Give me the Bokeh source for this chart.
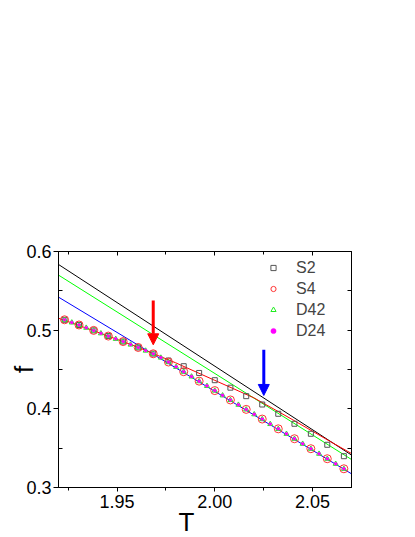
import numpy as np
from bokeh.plotting import figure
from bokeh.models import (Range1d, LinearAxis, FixedTicker, Title, Arrow,
                          NormalHead, Legend, LegendItem, CustomJSTickFormatter)
from bokeh.embed import file_html
from bokeh.resources import INLINE

# ---------------- data ----------------
T_all = [1.9231, 1.9268, 1.9305, 1.9342, 1.9380, 1.9417, 1.9455, 1.9493, 1.9531,
         1.9569, 1.9608, 1.9646, 1.9685, 1.9724, 1.9763, 1.9802, 1.9841, 1.9881,
         1.9920, 1.9960, 2.0000, 2.0040, 2.0080, 2.0121, 2.0161, 2.0202, 2.0243,
         2.0284, 2.0325, 2.0367, 2.0408, 2.0450, 2.0492, 2.0534, 2.0576, 2.0619,
         2.0661]
T_half = [1.9231, 1.9305, 1.9380, 1.9455, 1.9531, 1.9608, 1.9685, 1.9763, 1.9841,
          1.9920, 2.0000, 2.0080, 2.0161, 2.0243, 2.0325, 2.0408, 2.0492, 2.0576,
          2.0661]

S2 = [0.5132, 0.5066, 0.4997, 0.4925, 0.4855, 0.4780, 0.4702, 0.4614, 0.4542,
      0.4456, 0.4364, 0.4269, 0.4161, 0.4055, 0.3937, 0.3810, 0.3683, 0.3543,
      0.3398]
S4 = [0.5132, 0.5066, 0.4997, 0.4925, 0.4855, 0.4780, 0.4700, 0.4595, 0.4472,
      0.4352, 0.4232, 0.4113, 0.3993, 0.3870, 0.3746, 0.3620, 0.3493, 0.3366,
      0.3238]
D42 = [0.5130, 0.5097, 0.5064, 0.5030, 0.4995, 0.4959, 0.4923, 0.4888, 0.4853,
       0.4816, 0.4778, 0.4739, 0.4698, 0.4650, 0.4592, 0.4532, 0.4470, 0.4410,
       0.4350, 0.4290, 0.4230, 0.4170, 0.4111, 0.4051, 0.3991, 0.3930, 0.3868,
       0.3806, 0.3744, 0.3681, 0.3618, 0.3555, 0.3491, 0.3428, 0.3364, 0.3300,
       0.3236]
D24 = [0.5132, 0.5099, 0.5066, 0.5032, 0.4997, 0.4961, 0.4925, 0.4890, 0.4855,
       0.4818, 0.4780, 0.4741, 0.4700, 0.4652, 0.4595, 0.4534, 0.4472, 0.4412,
       0.4352, 0.4292, 0.4232, 0.4172, 0.4113, 0.4053, 0.3993, 0.3932, 0.3870,
       0.3808, 0.3746, 0.3683, 0.3620, 0.3557, 0.3493, 0.3430, 0.3366, 0.3302,
       0.3238]

fit_T = [1.92, 2.07]
fit_S2 = [0.5835, 0.3412]
fit_D42 = [0.5700, 0.3356]
fit_D24 = [0.5420, 0.3174]
red_T = [1.92, 1.94, 1.96, 1.98, 2.00, 2.02, 2.04, 2.06, 2.07]
red_f = [0.5152, 0.4975, 0.4790, 0.4585, 0.4362, 0.4140, 0.3860, 0.3572, 0.3432]

arrow_T = [1.9685, 2.0251]
arrow_f0 = [0.5377, 0.4750]
arrow_f1 = [0.4814, 0.4170]

x_major = [1.95, 2.00, 2.05]
x_minor = [1.925, 1.975, 2.025, 2.075]
y_major = [0.3, 0.4, 0.5, 0.6]
y_minor = [0.35, 0.45, 0.55]

FONT = "Liberation Sans"

W, H = 409, 535
p = figure(width=W, height=H, output_backend="svg", toolbar_location=None,
           x_range=Range1d(1.92, 2.07), y_range=Range1d(0.3, 0.6),
           min_border_left=58, min_border_right=W - 58 - 293, min_border_top=251,
           min_border_bottom=H - 251 - 236, background_fill_color="white",
           border_fill_color="white")
p.grid.visible = False
p.outline_line_color = "black"
p.outline_line_width = 1

xa = p.xaxis[0]
xa.ticker = FixedTicker(ticks=x_major, minor_ticks=x_minor)
xa.major_tick_out = 4
xa.major_tick_in = 0
xa.minor_tick_out = 3
xa.minor_tick_in = 0
xa.major_label_standoff = 3
xa.major_label_text_font = FONT
xa.major_label_text_font_size = "18px"
xa.major_label_text_color = "black"
xa.axis_line_color = "black"
xa.formatter = CustomJSTickFormatter(code="return tick.toFixed(2);")

ya = p.yaxis[0]
ya.ticker = FixedTicker(ticks=y_major, minor_ticks=y_minor)
ya.major_tick_out = 5
ya.major_tick_in = 0
ya.minor_tick_out = 0
ya.minor_tick_in = 4
ya.major_label_standoff = 2
ya.major_label_text_font = FONT
ya.major_label_text_font_size = "18px"
ya.major_label_text_color = "black"
ya.axis_line_color = "black"
ya.formatter = CustomJSTickFormatter(code="return tick.toFixed(1);")
ya.axis_label = "f"
ya.axis_label_text_font = FONT
ya.axis_label_text_font_size = "26px"
ya.axis_label_text_font_style = "normal"
ya.axis_label_text_color = "black"
ya.axis_label_standoff = -16

empty = CustomJSTickFormatter(code="return '';")
top = LinearAxis(ticker=FixedTicker(ticks=x_major, minor_ticks=x_minor),
                 major_tick_in=4, major_tick_out=0, minor_tick_in=3, minor_tick_out=0,
                 formatter=empty, major_label_standoff=0,
                 major_label_text_font_size="1px", axis_line_color="black")
right = LinearAxis(ticker=FixedTicker(ticks=y_major, minor_ticks=y_minor),
                   major_tick_in=4, major_tick_out=0, minor_tick_in=4, minor_tick_out=0,
                   formatter=empty, major_label_standoff=0,
                   major_label_text_font_size="1px", axis_line_color="black")
p.add_layout(top, "above")
p.add_layout(right, "right")

# x axis title as a Title in the bottom panel
p.add_layout(Title(text="T", align="left", offset=120, standoff=-12,
                   text_font=FONT, text_font_size="26px", text_font_style="normal",
                   text_color="black"), "below")

# fit lines
p.line(fit_T, fit_S2, line_color="black", line_width=1)
p.line(fit_T, fit_D42, line_color="#00ff00", line_width=1)
p.line(fit_T, fit_D24, line_color="#0000ff", line_width=1)
p.line(red_T, red_f, line_color="#ff0000", line_width=1)

r_s2 = p.scatter(T_half, S2, marker="square", size=5, fill_color=None,
                 line_color="#555555", line_width=1)
r_s4 = p.scatter(T_half, S4, marker="circle", size=8, fill_color=None,
                 line_color="#ff3333", line_width=1)
r_d42 = p.scatter(T_all, D42, marker="triangle", size=5, fill_color=None,
                  line_color="#22ee22", line_width=1)
r_d24 = p.scatter(T_all, D24, marker="circle", size=3, fill_color="#ff00ff",
                  line_color="#ff00ff", line_width=0.5)

# arrows
p.add_layout(Arrow(x_start=arrow_T[0], y_start=arrow_f0[0], x_end=arrow_T[0], y_end=arrow_f1[0],
                   line_color="#ff0000", line_width=3,
                   end=NormalHead(size=11, fill_color="#ff0000", line_color="#ff0000", line_width=1)))
p.add_layout(Arrow(x_start=arrow_T[1], y_start=arrow_f0[1], x_end=arrow_T[1], y_end=arrow_f1[1],
                   line_color="#0000ff", line_width=3,
                   end=NormalHead(size=11, fill_color="#0000ff", line_color="#0000ff", line_width=1)))

legend = Legend(items=[LegendItem(label="S2", renderers=[r_s2]),
                       LegendItem(label="S4", renderers=[r_s4]),
                       LegendItem(label="D42", renderers=[r_d42]),
                       LegendItem(label="D24", renderers=[r_d24])],
                location=(205, 147), orientation="vertical",
                border_line_color=None, background_fill_alpha=0,
                label_text_font=FONT, label_text_font_size="16px",
                glyph_width=20, glyph_height=13, label_height=19,
                label_standoff=13, spacing=2, padding=0, margin=0)
p.add_layout(legend, "center")

open("out.html", "w").write(file_html(p, INLINE))
